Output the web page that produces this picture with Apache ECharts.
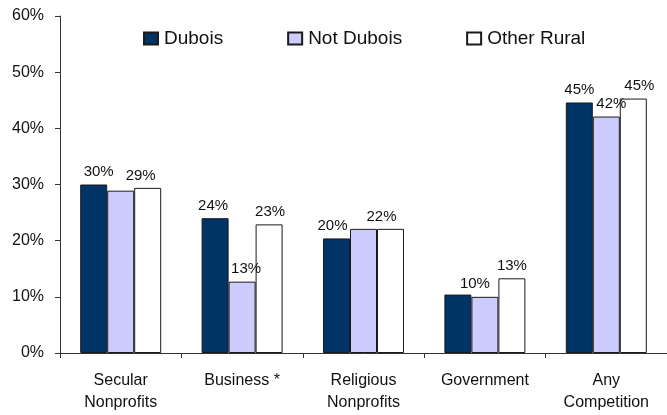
<!DOCTYPE html>
<html>
<head>
<meta charset="utf-8">
<script src="https://cdn.jsdelivr.net/npm/echarts@6/dist/echarts.min.js"></script>
<style>
  html, body { margin: 0; padding: 0; background: #ffffff; }
  #chart { width: 667px; height: 415px; }
</style>
</head>
<body>
<div id="chart"></div>
<script>
// Categories along the x axis
const categories = ['Secular\nNonprofits', 'Business *', 'Religious\nNonprofits', 'Government', 'Any\nCompetition'];

// Share of respondents (%) per group
const dubois      = [30.0, 24.0, 20.4, 10.4, 44.6];
const notDubois   = [28.9, 12.7, 22.1, 10.0, 42.1];
const otherRural  = [29.4, 22.9, 22.1, 13.3, 45.3];

const seriesNames = ['Dubois', 'Not Dubois', 'Other Rural'];

// Which value labels are printed above the bars
const duboisLabels     = [true, true, true, false, true];
const notDuboisLabels  = [false, true, false, true, true];
const otherRuralLabels = [true, true, true, true, true];

// Horizontal nudges (px) for the printed labels
const duboisNudge     = [5, -2, -4, 0, 0];
const notDuboisNudge  = [0, 4, 0, -10, 5];
const otherRuralNudge = [-7, 1, -9, 0, 6];

const FONT = '"Liberation Sans", Arial, Helvetica, sans-serif';

function buildData(values, shown, nudge) {
  return values.map((v, i) => ({
    value: v,
    label: {
      show: shown[i],
      offset: [nudge[i], 0]
    }
  }));
}

function makeSeries(name, values, shown, nudge, color) {
  return {
    name: name,
    type: 'bar',
    barWidth: 27,
    barGap: '0%',
    data: buildData(values, shown, nudge),
    itemStyle: { color: color, borderColor: '#1a1a1a', borderWidth: 1 },
    label: {
      position: 'top',
      distance: 5,
      color: '#111',
      fontFamily: FONT,
      fontSize: 15,
      formatter: p => Math.round(p.value) + '%'
    },
    emphasis: { disabled: true },
    animation: false
  };
}

const chart = echarts.init(document.getElementById('chart'), null, { renderer: 'canvas' });

chart.setOption({
  backgroundColor: '#ffffff',
  animation: false,
  textStyle: { fontFamily: FONT },
  legend: {
    data: seriesNames,
    left: 143,
    top: 29,
    padding: 0,
    icon: 'rect',
    itemWidth: 14,
    itemHeight: 12,
    itemGap: 64,
    textStyle: { fontFamily: FONT, fontSize: 19, color: '#111', padding: [0, 0, 0, 1] },
    selectedMode: false
  },
  grid: { left: 60, top: 16, width: 610, height: 337 },
  xAxis: {
    type: 'category',
    data: categories,
    axisLine: { lineStyle: { color: '#333', width: 1 } },
    axisTick: { show: true, length: 5, lineStyle: { color: '#333' } },
    axisLabel: {
      interval: 0,
      margin: 17,
      color: '#111',
      fontFamily: FONT,
      fontSize: 16,
      lineHeight: 22
    }
  },
  yAxis: {
    type: 'value',
    min: 0,
    max: 60,
    interval: 10,
    axisLine: { show: true, lineStyle: { color: '#333', width: 1 } },
    axisTick: { show: true, length: 5, lineStyle: { color: '#333' } },
    splitLine: { show: false },
    axisLabel: {
      margin: 16,
      color: '#111',
      fontFamily: FONT,
      fontSize: 16,
      formatter: '{value}%'
    }
  },
  series: [
    makeSeries(seriesNames[0], dubois, duboisLabels, duboisNudge, '#003366'),
    makeSeries(seriesNames[1], notDubois, notDuboisLabels, notDuboisNudge, '#ccccff'),
    makeSeries(seriesNames[2], otherRural, otherRuralLabels, otherRuralNudge, '#ffffff')
  ]
});
</script>
</body>
</html>
